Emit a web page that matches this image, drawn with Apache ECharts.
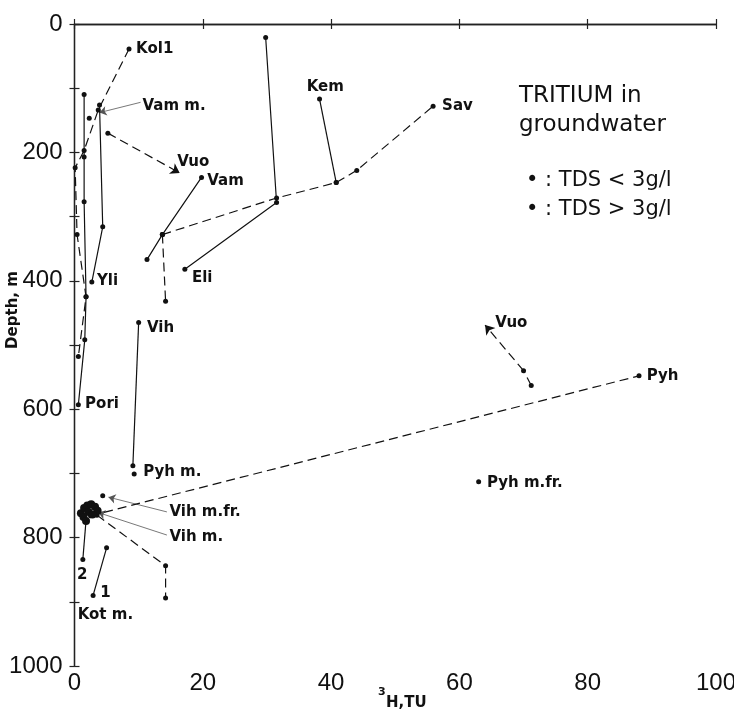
<!DOCTYPE html>
<html><head><meta charset="utf-8">
<script src="https://cdn.jsdelivr.net/npm/echarts@6/dist/echarts.min.js"></script>
<style>html,body{margin:0;padding:0;background:#fff}#c{width:734px;height:716px}</style>
</head><body><div id="c"></div>
<script>
// ---- tick labels ----
const xTickLabels = [0, 20, 40, 60, 80, 100];
const yTickLabels = [0, 200, 400, 600, 800, 1000];

// ---- solid profiles: [3H (TU), depth (m)] ----
const poriLine = [[1.5,110],[1.5,207],[1.5,277],[1.8,425],[1.6,492],[0.6,593]];
const yliLine  = [[3.9,126],[4.4,316],[2.7,402]];
const vamLine  = [[19.8,239],[13.7,328],[11.3,367]];
const eliLine  = [[29.8,21],[31.5,278],[17.2,382]];
const kemLine  = [[38.2,117],[40.8,247]];
const vihLine  = [[10.0,465],[9.1,688]];
const kot2Line = [[1.8,773],[1.3,834]];
const kot1Line = [[5.0,816],[2.9,890]];

// ---- dashed profiles ----
const kolLine  = [[8.5,39],[3.7,134],[1.5,197],[0.1,224],[0.4,328],[1.8,425],[0.6,518]];
const savLine  = [[13.7,328],[31.5,271],[40.8,247],[44.0,228],[55.9,128]];
const vihDash  = [[13.7,328],[14.2,432]];
const pyhLine  = [[2.5,766],[88.0,548]];
const vuoLine  = [[71.2,563],[70.0,540]];
const kotDash  = [[3.5,765],[14.2,844],[14.2,894]];

// ---- arrows ----
const vuoArrowL = [[5.2,170],[16.4,232]];
const vuoArrowR = [[70.0,540],[64.0,469]];
const vamMLeader   = [[10.3,122],[3.9,138]];
const vihMfrLeader = [[14.4,760],[5.3,737]];
const vihMLeader   = [[14.4,796],[3.7,761]];

// ---- single samples ----
const singlePts  = [[2.3,147],[9.3,701],[4.4,735],[63.0,713],[5.2,170]];
const clusterPts = [[1.0,762],[1.5,754],[2.0,750],[2.6,748],[3.2,752],[3.6,758],[2.2,760],[1.4,768],[2.8,764],[1.8,774]];

// ---- labels: [text, x, depth] ----
const pointLabels = [
  ['Kol1',9.6,39],['Vam m.',10.6,128],['Vuo',16.0,215],['Vam',20.7,244],
  ['Kem',36.2,98],['Sav',57.3,128],['Eli',18.3,396],['Yli',3.5,400],
  ['Vih',11.3,474],['Pori',1.65,592],['Pyh m.',10.7,698],['Vih m.fr.',14.8,760],
  ['Vih m.',14.8,799],['2',0.4,858],['1',4.0,886],['Kot m.',0.5,920],
  ['Pyh m.fr.',64.3,715],['Pyh',89.2,548],['Vuo',65.6,466]
];

const INK = '#111';
const chart = echarts.init(document.getElementById('c'));

function lineSeries(data, dashed) {
  return {
    type: 'line', data: data, xAxisIndex: 0, yAxisIndex: 0,
    symbol: 'circle', symbolSize: 5, showSymbol: true,
    itemStyle: { color: INK, opacity: 1 },
    lineStyle: { color: INK, width: 1.2, type: dashed ? [9, 5] : 'solid' },
    animation: false, z: 3
  };
}
function arrowSeries(coords, dashed, thin) {
  return {
    type: 'lines', coordinateSystem: 'cartesian2d', xAxisIndex: 0, yAxisIndex: 0,
    data: [{ coords: coords }],
    symbol: ['none', 'arrow'], symbolSize: thin ? 7 : 9,
    lineStyle: { color: thin ? '#555' : INK, width: thin ? 0.8 : 1.2, type: dashed ? [9, 5] : 'solid', opacity: 1 },
    animation: false, z: 3
  };
}

const series = [];
[poriLine, yliLine, vamLine, eliLine, kemLine, vihLine, kot2Line, kot1Line].forEach(d => series.push(lineSeries(d, false)));
[kolLine, savLine, vihDash, pyhLine, vuoLine, kotDash].forEach(d => series.push(lineSeries(d, true)));
series.push(arrowSeries(vuoArrowL, true, false));
series.push(arrowSeries(vuoArrowR, true, false));
series.push(arrowSeries(vamMLeader, false, true));
series.push(arrowSeries(vihMfrLeader, false, true));
series.push(arrowSeries(vihMLeader, false, true));
series.push({
  type: 'scatter', data: singlePts, symbolSize: 5, itemStyle: { color: INK, opacity: 1 }, animation: false, z: 4
});
series.push({
  type: 'scatter', data: clusterPts, symbolSize: 8, itemStyle: { color: INK, opacity: 1 }, animation: false, z: 4
});
series.push({
  type: 'scatter', symbolSize: 0, animation: false, z: 5,
  itemStyle: { opacity: 1 },
  data: pointLabels.map(l => ({ name: l[0], value: [l[1], l[2]] })),
  label: {
    show: true, position: 'right', distance: 0, formatter: p => p.name,
    color: INK, opacity: 1, fontFamily: 'DejaVu Sans', fontWeight: 'bold', fontSize: 15
  }
});

const axisLineStyle = { lineStyle: { color: '#222', width: 1.3 } };
const tickStyle = { show: true, inside: false, length: 5, lineStyle: { color: '#222', width: 1.2 } };
const numFont = { fontFamily: 'Liberation Sans Narrow, Liberation Sans', fontSize: 24, color: INK };

chart.setOption({
  backgroundColor: '#fff',
  animation: false,
  grid: { left: 74.5, right: 18, top: 24, bottom: 50, containLabel: false, outerBoundsMode: 'none' },
  xAxis: [
    { type: 'value', position: 'bottom', min: 0, max: 100, interval: 20,
      axisLine: axisLineStyle, axisTick: tickStyle, splitLine: { show: false },
      axisLabel: Object.assign({ margin: 5, formatter: v => xTickLabels.includes(v) ? String(v) : '' }, numFont)
    },
    { type: 'value', position: 'top', min: 0, max: 100, interval: 20,
      axisLine: axisLineStyle, axisTick: tickStyle, axisLabel: { show: false }, splitLine: { show: false } }
  ],
  yAxis: [
    { type: 'value', position: 'left', inverse: true, min: 0, max: 1000, interval: 100,
      axisLine: axisLineStyle, axisTick: tickStyle, splitLine: { show: false },
      axisLabel: Object.assign({ margin: 12, formatter: v => yTickLabels.includes(v) ? String(v) : '' }, numFont)
    },
    { type: 'value', position: 'right', inverse: true, min: 0, max: 1000, interval: 100,
      axisLine: axisLineStyle, axisTick: tickStyle, axisLabel: { show: false }, splitLine: { show: false } }
  ],
  graphic: [
    { type: 'text', x: 13, y: 310, rotation: Math.PI / 2,
      style: { text: 'Depth, m', font: 'bold 15px "DejaVu Sans"', fill: INK, textAlign: 'center', textVerticalAlign: 'middle' } },
    { type: 'text', left: 378, top: 687,
      style: { text: '3', font: 'bold 11px "DejaVu Sans"', fill: INK } },
    { type: 'text', left: 386, top: 696,
      style: { text: 'H,TU', font: 'bold 15px "DejaVu Sans"', fill: INK } },
    { type: 'text', left: 519, top: 82, style: { text: 'TRITIUM in\ngroundwater', font: '23px "DejaVu Sans"', fill: INK, lineHeight: 29 } },
    { type: 'text', left: 526, top: 166, style: { text: '• : TDS < 3g/l\n• : TDS > 3g/l', font: '21px "DejaVu Sans"', fill: INK, lineHeight: 29 } }
  ],
  series: series
});
</script>
</body></html>
